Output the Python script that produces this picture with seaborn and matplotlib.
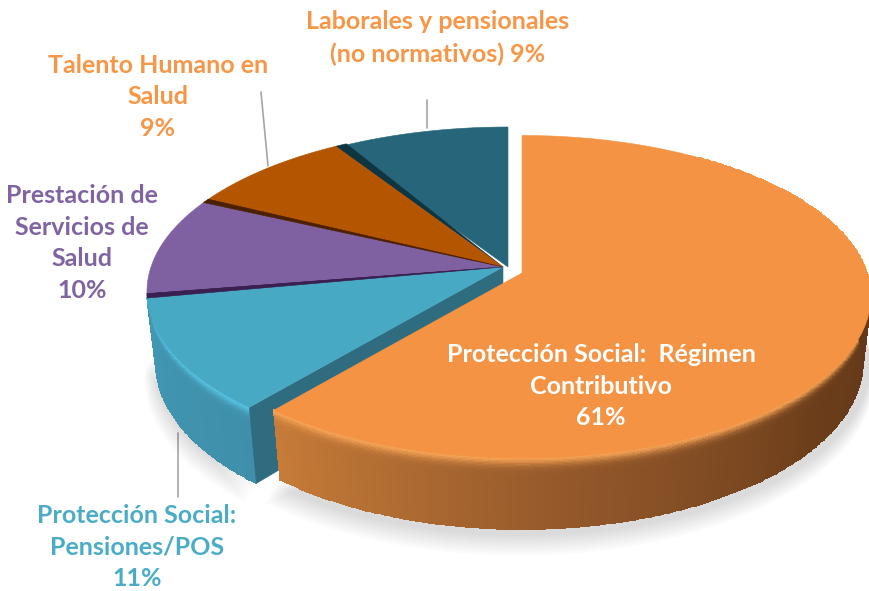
import numpy as np
import matplotlib
matplotlib.use('Agg')
import matplotlib.pyplot as plt
from matplotlib.colors import to_rgb
import seaborn as sns

# Datos
categorias = ['Protección Social:  Régimen\nContributivo',
              'Protección Social:\nPensiones/POS',
              'Prestación de\nServicios de\nSalud',
              'Talento Humano en\nSalud',
              'Laborales y pensionales\n(no normativos)']
valores = [61, 11, 10, 9, 9]

color_cara = ['#F39343', '#48A9C5', '#7F61A1', '#B45500', '#27667A']
color_corte = ['#8A4F1F', '#2F6C80', '#3A2050', '#4A2000', '#0F3442']
color_texto = ['white', '#4BACC6', '#8064A2', '#F79646', '#F79646']

# Geometria del pastel en perspectiva
cx, cy = 503, 267
W, H, k = 352, 161, 0.15
alto_azul = 71
alto_naranja = 65
encoge = 0.00035
sep_naranja = (19, 6)
r_naranja = 0.98
sep_verde = (5, 0)

sns.set_theme(style='white')
plt.rcParams['font.family'] = ['Lato', 'DejaVu Sans']

fig, ax = plt.subplots(figsize=(8.7, 5.91), dpi=100)
fig.subplots_adjust(left=0, right=1, top=1, bottom=0)
ax.set_xlim(0, 870)
ax.set_ylim(591, 0)
ax.axis('off')


def punto(grados, r=1.0, z=0.0, d=(0, 0)):
    t = np.radians(grados)
    f = r * (1 - encoge * np.asarray(z))
    u = f * np.sin(t)
    v = -f * np.cos(t)
    w = 1 - k * v
    return cx + d[0] + W * u / w, cy + d[1] + (H * v + z) / w


def cara(a, b, color, d=(0, 0), r=1.0, zorder=3):
    g = np.linspace(a, b, 80)
    x, y = punto(g, r=r, d=d)
    ax.fill(np.r_[cx + d[0], x], np.r_[cy + d[1], y], color=color, lw=0.4, zorder=zorder)


def lateral(a, b, base, alto, d=(0, 0), r=1.0, brillo=None, cara_c=None, zorder=2):
    # costado curvo en malla fina, con la luz en el borde de arriba
    g = np.linspace(a, b, int((b - a) * 2) + 2)
    z = np.linspace(-3, alto, 56)
    G, Z = np.meshgrid(g, z)
    X, Y = punto(G, r=r, z=np.clip(Z, 0, None), d=d)
    gm = (g[:-1] + g[1:]) / 2
    zm = (z[:-1] + z[1:]) / 2
    tonos = np.array(sns.blend_palette(base, len(gm)))
    C = np.repeat(tonos[None, :, :], len(zm), axis=0)
    f = np.exp(-(np.clip(zm, 0, None) / 7.0) ** 2)[:, None, None]
    C = C * (1 - f) + np.array(to_rgb(brillo)) * f
    # difumina hacia la cara
    m = np.clip((zm + 3) / 5.0, 0, 1)[:, None, None]
    C = C * m + np.array(to_rgb(cara_c)) * (1 - m)
    ax.pcolormesh(X, Y, C, shading='flat', edgecolors='face', linewidth=0.3, zorder=zorder)


def sombra(a, b, alto, d=(0, 0)):
    g = np.linspace(a, b, 120)
    for extra in range(18, 0, -2):
        x, y = punto(g, r=1 + extra * 0.0015, z=alto + extra * 0.8, d=d)
        ax.fill(x - extra * 0.2, y, color='#000000', alpha=0.014, lw=0, zorder=1)


# Angulos de cada porcion, en sentido horario desde arriba
fin = np.cumsum(valores) / sum(valores) * 360
ini = np.r_[0, fin[:-1]]

# Lineas guia
guias = [((178, 497), (178, 433)), ((261, 92), (268, 166)), ((427, 100), (427, 128))]
for p, q in guias:
    ax.plot([p[0], q[0]], [p[1], q[1]], color='#A6A6A6', lw=1.2, zorder=1)

sombra(ini[1], fin[1] + 6, alto_azul)
sombra(60, fin[0], alto_naranja, d=sep_naranja)

# Porciones de atras
cara(ini[4], fin[4], color_cara[4], d=sep_verde, zorder=3)
cara(ini[4], ini[4] + 2.2, color_corte[4], zorder=3.2)
for i in [3, 2]:
    cara(ini[i], fin[i], color_cara[i], zorder=3.5)
    cara(ini[i], ini[i] + 1.5, color_corte[i], zorder=3.6)

# Porcion azul, con el corte visible
lateral(ini[1], fin[1], ['#3F8FAA', '#4197B2'], alto_azul, brillo='#58C6E6',
        cara_c=color_cara[1], zorder=2)
x1, y1 = punto(ini[1])
x2, y2 = punto(ini[1], z=alto_azul)
x3, y3 = punto(0, r=0, z=alto_azul)
ax.fill([cx, x1, x2, x3], [cy, y1, y2, y3], color=color_corte[1], lw=0.4, zorder=4)
cara(ini[1], fin[1], color_cara[1], zorder=5)
cara(fin[1], fin[1] + 1.5, color_corte[2], zorder=5.5)

# Porcion naranja separada
lateral(35, fin[0], ['#5A3318', '#5F3619', '#6B3D1A', '#93582A', '#C67B38'], alto_naranja,
        d=sep_naranja, r=r_naranja, brillo='#F8A557', cara_c=color_cara[0], zorder=6)
cara(ini[0], fin[0], color_cara[0], d=sep_naranja, r=r_naranja, zorder=7)


# Etiquetas
def etiqueta(x, y, txt, color):
    ax.text(x, y, txt, color=color, fontsize=18, fontweight='bold', ha='center',
            va='center', linespacing=1.45, zorder=10)


porcentajes = ['{}%'.format(v) for v in valores]
etiqueta(601, 386, categorias[0] + '\n' + porcentajes[0], color_texto[0])
etiqueta(137, 547, categorias[1] + '\n' + porcentajes[1], color_texto[1])
etiqueta(82, 243, categorias[2] + '\n' + porcentajes[2], color_texto[2])
etiqueta(158, 97, categorias[3] + '\n' + porcentajes[3], color_texto[3])
etiqueta(438, 38, categorias[4] + ' ' + porcentajes[4], color_texto[4])

fig.savefig('out.png', dpi=100)
